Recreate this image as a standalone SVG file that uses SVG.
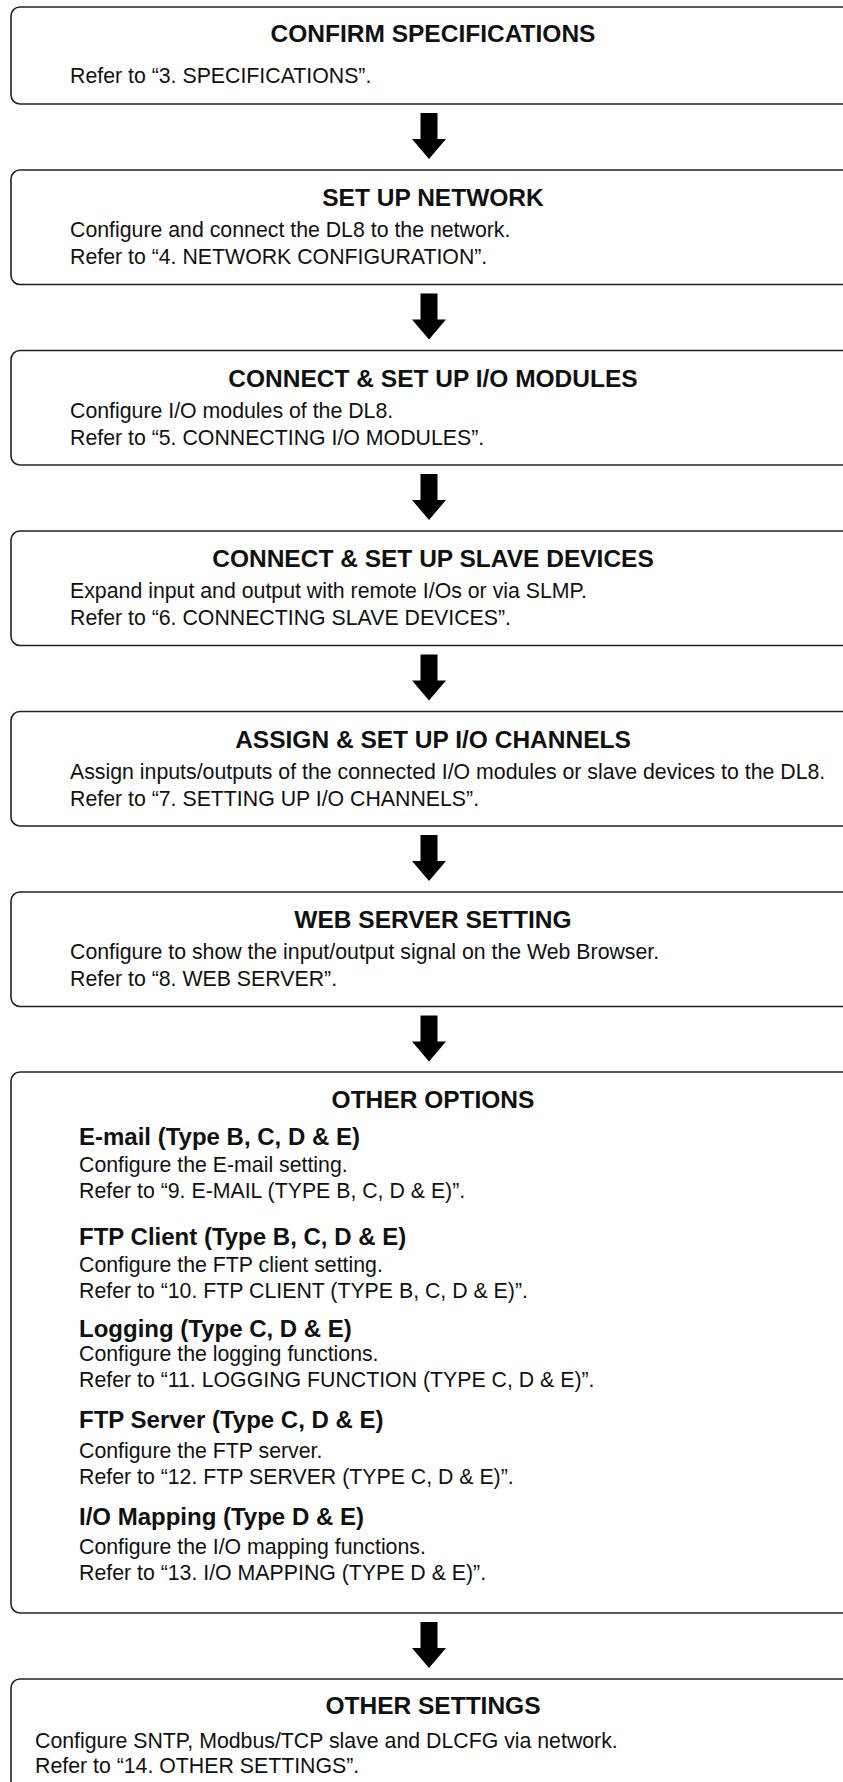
<svg xmlns="http://www.w3.org/2000/svg" xmlns:xlink="http://www.w3.org/1999/xlink" width="843" height="1782" viewBox="0 0 843 1782">
<style>
.box{fill:#fff;stroke:#222;stroke-width:1.6}
.t{font-family:"Liberation Sans",Arial,Helvetica,sans-serif;font-weight:bold;font-size:24.5px;fill:#111;text-anchor:middle}
.h{font-family:"Liberation Sans",Arial,Helvetica,sans-serif;font-weight:bold;font-size:24px;fill:#111}
.b{font-family:"Liberation Sans",Arial,Helvetica,sans-serif;font-size:21.3px;fill:#111}
.arr{fill:#000}
</style>
<defs>
<polygon id="arrow" class="arr" points="-8.5,0 8.5,0 8.5,26 17,26 0,46 -17,26 -8.5,26"/>
</defs>
<rect width="843" height="1782" fill="#fff"/>
<g id="connectors">
<use xlink:href="#arrow" x="429" y="113"/>
<use xlink:href="#arrow" x="429" y="293.5"/>
<use xlink:href="#arrow" x="429" y="474"/>
<use xlink:href="#arrow" x="429" y="654.5"/>
<use xlink:href="#arrow" x="429" y="835"/>
<use xlink:href="#arrow" x="429" y="1015.5"/>
<use xlink:href="#arrow" x="429" y="1622"/>
</g>
<g id="confirm-specifications">
<rect class="box" x="11" y="7" width="880" height="97" rx="9"/>
<text class="t" x="433" y="42">CONFIRM SPECIFICATIONS</text>
<text class="b" x="70" y="83">Refer to “3. SPECIFICATIONS”.</text>
</g>
<g id="set-up-network">
<rect class="box" x="11" y="170" width="880" height="114.5" rx="9"/>
<text class="t" x="433" y="206">SET UP NETWORK</text>
<text class="b" x="70" y="237">Configure and connect the DL8 to the network.</text>
<text class="b" x="70" y="264">Refer to “4. NETWORK CONFIGURATION”.</text>
</g>
<g id="io-modules">
<rect class="box" x="11" y="350.5" width="880" height="114.5" rx="9"/>
<text class="t" x="433" y="386.5">CONNECT &amp; SET UP I/O MODULES</text>
<text class="b" x="70" y="417.5">Configure I/O modules of the DL8.</text>
<text class="b" x="70" y="444.5">Refer to “5. CONNECTING I/O MODULES”.</text>
</g>
<g id="slave-devices">
<rect class="box" x="11" y="531" width="880" height="114.5" rx="9"/>
<text class="t" x="433" y="567">CONNECT &amp; SET UP SLAVE DEVICES</text>
<text class="b" x="70" y="598">Expand input and output with remote I/Os or via SLMP.</text>
<text class="b" x="70" y="625">Refer to “6. CONNECTING SLAVE DEVICES”.</text>
</g>
<g id="io-channels">
<rect class="box" x="11" y="711.5" width="880" height="114.5" rx="9"/>
<text class="t" x="433" y="747.5">ASSIGN &amp; SET UP I/O CHANNELS</text>
<text class="b" x="70" y="778.5">Assign inputs/outputs of the connected I/O modules or slave devices to the DL8.</text>
<text class="b" x="70" y="805.5">Refer to “7. SETTING UP I/O CHANNELS”.</text>
</g>
<g id="web-server">
<rect class="box" x="11" y="892" width="880" height="114.5" rx="9"/>
<text class="t" x="433" y="928">WEB SERVER SETTING</text>
<text class="b" x="70" y="959">Configure to show the input/output signal on the Web Browser.</text>
<text class="b" x="70" y="986">Refer to “8. WEB SERVER”.</text>
</g>
<g id="other-options">
<rect class="box" x="11" y="1072" width="880" height="541" rx="9"/>
<text class="t" x="433" y="1108">OTHER OPTIONS</text>
<text class="h" x="79" y="1145">E-mail (Type B, C, D &amp; E)</text>
<text class="b" x="79" y="1172">Configure the E-mail setting.</text>
<text class="b" x="79" y="1198">Refer to “9. E-MAIL (TYPE B, C, D &amp; E)”.</text>
<text class="h" x="79" y="1245">FTP Client (Type B, C, D &amp; E)</text>
<text class="b" x="79" y="1272">Configure the FTP client setting.</text>
<text class="b" x="79" y="1298">Refer to “10. FTP CLIENT (TYPE B, C, D &amp; E)”.</text>
<text class="h" x="79" y="1337">Logging (Type C, D &amp; E)</text>
<text class="b" x="79" y="1361">Configure the logging functions.</text>
<text class="b" x="79" y="1387">Refer to “11. LOGGING FUNCTION (TYPE C, D &amp; E)”.</text>
<text class="h" x="79" y="1428">FTP Server (Type C, D &amp; E)</text>
<text class="b" x="79" y="1458">Configure the FTP server.</text>
<text class="b" x="79" y="1484">Refer to “12. FTP SERVER (TYPE C, D &amp; E)”.</text>
<text class="h" x="79" y="1525">I/O Mapping (Type D &amp; E)</text>
<text class="b" x="79" y="1554">Configure the I/O mapping functions.</text>
<text class="b" x="79" y="1580">Refer to “13. I/O MAPPING (TYPE D &amp; E)”.</text>
</g>
<g id="other-settings">
<rect class="box" x="11" y="1679" width="880" height="160" rx="9"/>
<text class="t" x="433" y="1714">OTHER SETTINGS</text>
<text class="b" x="35" y="1748">Configure SNTP, Modbus/TCP slave and DLCFG via network.</text>
<text class="b" x="35" y="1773">Refer to “14. OTHER SETTINGS”.</text>
</g>
</svg>
